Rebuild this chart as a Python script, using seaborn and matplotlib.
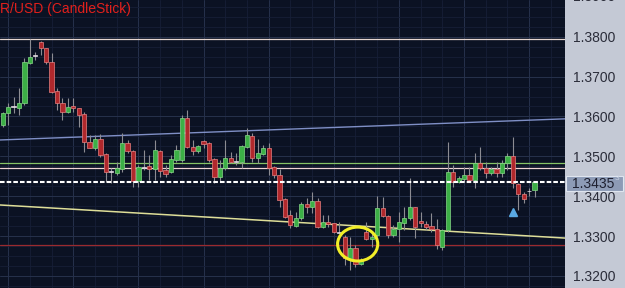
"""EUR/USD candlestick chart with support / resistance lines"""

import matplotlib
matplotlib.use('Agg')
import matplotlib.pyplot as plt
from matplotlib.patches import Ellipse, Rectangle
import numpy as np
import seaborn as sns

# OHLC values, one per candle
opens = [1.3579, 1.3609, 1.3624, 1.3621, 1.3634, 1.3734, 1.3752, 1.3787, 1.3772, 1.3737,
         1.3664, 1.3634, 1.3611, 1.3626, 1.3621, 1.3606, 1.3536, 1.3521, 1.3543, 1.3506,
         1.3461, 1.3458, 1.3468, 1.3533, 1.3513, 1.3438, 1.3473, 1.3476, 1.3468, 1.3513,
         1.3466, 1.3461, 1.3491, 1.3491, 1.3596, 1.3523, 1.3513, 1.3538, 1.3533, 1.3493,
         1.3448, 1.3471, 1.3496, 1.3486, 1.3486, 1.3523, 1.3551, 1.3496, 1.3506, 1.3521,
         1.3473, 1.3453, 1.3393, 1.3353, 1.3325, 1.3345, 1.3381, 1.3373, 1.3388, 1.3323,
         1.3335, 1.3333, 1.3310, 1.3298, 1.3243, 1.3270, 1.3230, 1.3310, 1.3293, 1.3303,
         1.3370, 1.3350, 1.3303, 1.3318, 1.3333, 1.3345, 1.3373, 1.3338, 1.3330, 1.3325,
         1.3318, 1.3273, 1.3315, 1.3461, 1.3436, 1.3443, 1.3453, 1.3441, 1.3483, 1.3471,
         1.3458, 1.3468, 1.3458, 1.3483, 1.3501, 1.3431, 1.3406, 1.3413, 1.3416]
highs = [1.3611, 1.3634, 1.3649, 1.3671, 1.3747, 1.3794, 1.3762, 1.3789, 1.3772, 1.3759,
         1.3671, 1.3646, 1.3646, 1.3646, 1.3621, 1.3611, 1.3554, 1.3554, 1.3556, 1.3508,
         1.3471, 1.3486, 1.3559, 1.3541, 1.3516, 1.3478, 1.3516, 1.3503, 1.3541, 1.3516,
         1.3478, 1.3503, 1.3528, 1.3604, 1.3616, 1.3541, 1.3528, 1.3541, 1.3536, 1.3496,
         1.3491, 1.3541, 1.3511, 1.3508, 1.3528, 1.3571, 1.3559, 1.3543, 1.3528, 1.3533,
         1.3476, 1.3468, 1.3396, 1.3365, 1.3360, 1.3386, 1.3396, 1.3411, 1.3396, 1.3353,
         1.3353, 1.3333, 1.3335, 1.3303, 1.3298, 1.3278, 1.3245, 1.3335, 1.3310, 1.3401,
         1.3398, 1.3353, 1.3328, 1.3360, 1.3373, 1.3446, 1.3373, 1.3360, 1.3338, 1.3358,
         1.3343, 1.3318, 1.3536, 1.3478, 1.3451, 1.3473, 1.3473, 1.3508, 1.3523, 1.3486,
         1.3473, 1.3486, 1.3491, 1.3508, 1.3548, 1.3433, 1.3411, 1.3421, 1.3438]
lows = [1.3574, 1.3579, 1.3609, 1.3604, 1.3629, 1.3732, 1.3742, 1.3754, 1.3732, 1.3659,
        1.3616, 1.3591, 1.3609, 1.3611, 1.3574, 1.3511, 1.3521, 1.3516, 1.3498, 1.3436,
        1.3433, 1.3453, 1.3461, 1.3508, 1.3423, 1.3423, 1.3466, 1.3441, 1.3441, 1.3448,
        1.3448, 1.3458, 1.3486, 1.3486, 1.3521, 1.3503, 1.3508, 1.3521, 1.3486, 1.3433,
        1.3436, 1.3466, 1.3483, 1.3478, 1.3471, 1.3521, 1.3486, 1.3483, 1.3503, 1.3453,
        1.3446, 1.3373, 1.3345, 1.3320, 1.3323, 1.3340, 1.3358, 1.3358, 1.3320, 1.3320,
        1.3323, 1.3308, 1.3308, 1.3228, 1.3215, 1.3223, 1.3228, 1.3290, 1.3273, 1.3298,
        1.3348, 1.3295, 1.3298, 1.3285, 1.3315, 1.3340, 1.3295, 1.3323, 1.3315, 1.3310,
        1.3268, 1.3265, 1.3310, 1.3423, 1.3433, 1.3436, 1.3436, 1.3421, 1.3466, 1.3446,
        1.3453, 1.3448, 1.3448, 1.3466, 1.3421, 1.3365, 1.3383, 1.3401, 1.3398]
closes = [1.3609, 1.3624, 1.3624, 1.3634, 1.3737, 1.3749, 1.3752, 1.3772, 1.3737, 1.3661,
          1.3634, 1.3611, 1.3624, 1.3621, 1.3604, 1.3536, 1.3521, 1.3543, 1.3503, 1.3461,
          1.3461, 1.3471, 1.3533, 1.3513, 1.3438, 1.3473, 1.3473, 1.3468, 1.3516, 1.3463,
          1.3456, 1.3493, 1.3516, 1.3596, 1.3523, 1.3513, 1.3526, 1.3531, 1.3491, 1.3448,
          1.3471, 1.3496, 1.3486, 1.3486, 1.3526, 1.3554, 1.3496, 1.3508, 1.3521, 1.3471,
          1.3453, 1.3391, 1.3348, 1.3328, 1.3345, 1.3381, 1.3373, 1.3388, 1.3323, 1.3335,
          1.3330, 1.3310, 1.3310, 1.3245, 1.3270, 1.3230, 1.3238, 1.3293, 1.3298, 1.3370,
          1.3350, 1.3303, 1.3318, 1.3335, 1.3345, 1.3373, 1.3323, 1.3333, 1.3323, 1.3318,
          1.3278, 1.3315, 1.3461, 1.3436, 1.3446, 1.3453, 1.3441, 1.3483, 1.3471, 1.3458,
          1.3468, 1.3458, 1.3483, 1.3501, 1.3433, 1.3406, 1.3393, 1.3413, 1.3435]

# horizontal levels and sloped trend lines
top_level = 1.3794
green_level = 1.3483
pink_level = 1.3471
red_level = 1.3278
last_price = 1.3435
trend_x = [-0.5, 103.6]
blue_trend = [1.3541, 1.3594]
yellow_trend = [1.3378, 1.3295]
price_ticks = [1.3200, 1.3300, 1.3400, 1.3500, 1.3600, 1.3700, 1.3800]

bg = '#0b1223'
panel = '#c4c9d5'

sns.set_theme(style='dark', rc={'axes.facecolor': bg, 'figure.facecolor': panel})
plt.rcParams['font.family'] = ['Liberation Sans', 'DejaVu Sans']

fig = plt.figure(figsize=(6.25, 2.88), dpi=100)
ax = fig.add_axes([0, 0, 565 / 625, 1])
ax.set_facecolor(bg)

o, h, l, c = (np.array(v) for v in (opens, highs, lows, closes))
x = np.arange(len(o))

# wicks
ax.vlines(x, l, h, color='#8c8c92', lw=0.8, zorder=3)
# bodies
body_h = np.maximum(np.abs(c - o), 0.00022)
body_bottom = np.where(c == o, o - 0.00011, np.minimum(o, c))
fills = np.where(c > o, '#3caf46', np.where(c < o, '#b0282c', '#c8b8c0'))
edges = np.where(c > o, '#86d886', np.where(c < o, '#e88080', '#e8e0e8'))
ax.bar(x, body_h, bottom=body_bottom, width=0.78, color=fills,
       edgecolor=edges, linewidth=0.5, zorder=4)

# levels
ax.axhline(top_level, color='#e6d6d0', lw=0.9, zorder=2)
ax.axhline(green_level, color='#86c466', lw=0.9, zorder=2)
ax.axhline(pink_level, color='#f0d4d4', lw=0.9, zorder=2)
ax.axhline(red_level, color='#9a2a2e', lw=0.9, zorder=2)
ax.axhline(last_price, color='white', lw=1.5, dashes=(2.2, 1.0), zorder=5)

sns.lineplot(x=trend_x, y=blue_trend, color='#7f8fc6', lw=1.0, ax=ax, zorder=2)
sns.lineplot(x=trend_x, y=yellow_trend, color='#dede98', lw=1.1, ax=ax, zorder=2)

# highlight circle and signal arrow
ax.add_patch(Ellipse((65.4, 1.3280), width=7.4, height=0.0085, fill=False,
                     edgecolor='#f2ee28', lw=2.2, zorder=6))
ax.plot(94, 1.3361, marker='^', ms=6, color='#5aaae4', zorder=6)

ax.set_xlim(trend_x)
ax.set_ylim(1.31698, 1.38920)

# grid
ax.set_xticks(np.arange(1, 104, 12))
ax.set_xticks(np.arange(1, 104, 4), minor=True)
ax.set_yticks(price_ticks)
ax.set_yticks(np.arange(1.3175, 1.3893, 0.0025), minor=True)
ax.grid(which='major', color='#26314c', lw=0.7)
ax.grid(which='minor', color='#161f37', lw=0.6)
ax.set_xticklabels([])
ax.set_yticklabels([f'{t:.4f}' for t in price_ticks])
ax.yaxis.tick_right()
ax.tick_params(axis='y', which='both', length=0, pad=5.8, labelsize=10,
               labelcolor='#2b2d3a')
ax.tick_params(axis='x', which='both', length=0)
for s in ax.spines.values():
    s.set_visible(False)

# title and current price tag
fig.text(0.0, 1 - 9 / 288, 'R/USD (CandleStick)', color='#e0201c',
         fontsize=10, va='center', ha='left')
fig.text(573 / 625, 1 + 3 / 288, '1.3900', color='#2b2d3a', fontsize=10, va='center')
fig.patches.append(Rectangle((566 / 625, (288 - 191) / 288), 57 / 625, 15 / 288,
                             transform=fig.transFigure, facecolor='#8d9bb6',
                             edgecolor='#dfe5ef', lw=0.8))
fig.text(572 / 625, 1 - 183.5 / 288, '1.3435', color='#1e2030', fontsize=10,
         va='center', zorder=5)
fig.text(615 / 625, 1 - 179 / 288, '3', color='#c8d0e0', fontsize=6,
         va='center', zorder=5)

fig.savefig('out.png', dpi=100, facecolor=fig.get_facecolor())
